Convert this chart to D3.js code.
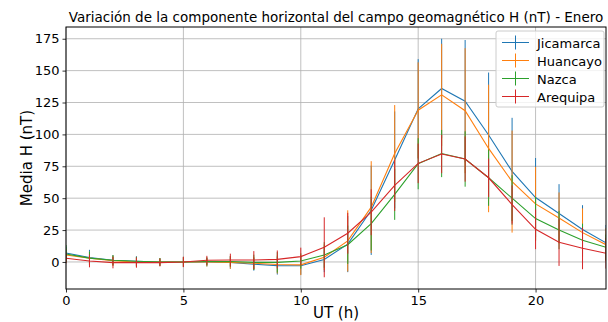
<!DOCTYPE html>
<html>
<head>
<meta charset="utf-8">
<script src="https://cdn.jsdelivr.net/npm/d3@7"></script>
<style>
  body { margin: 0; background: #fff; }
  svg { font-family: "DejaVu Sans", sans-serif; }
</style>
</head>
<body>
<div id="chart-area"></div>
<script>
// hourly means (nT) and std devs
var hours = [0,1,2,3,4,5,6,7,8,9,10,11,12,13,14,15,16,17,18,19,20,21,22,23];

var stations = ["Jicamarca", "Huancayo", "Nazca", "Arequipa"];
var colors = ["#1f77b4", "#ff7f0e", "#2ca02c", "#d62728"];

var jicamarca = [7, 3.5, 1.3, 0.5, 0, 0, 0, -0.3, -1.8, -2.9, -3, 2, 14, 40.5, 80, 120, 136, 126, 99.5, 71, 50.5, 38, 25.5, 15];
var jicamarcaStd = [5, 6, 4, 4, 3, 4, 3.5, 5, 5, 7, 7, 10, 22, 35, 38, 39, 39, 48, 49, 42, 31, 23, 19, 14];

var huancayo = [5.5, 3, 1, 0, 0, 0, 0, -0.3, -1, -2, -2.3, 3.7, 16.5, 43, 85, 119, 131, 118.6, 89, 63, 45.5, 34.5, 23, 13.5];
var huancayoStd = [5, 5, 4, 4, 3, 4, 3.5, 5, 5, 7, 8, 10, 24, 36, 38, 37.5, 40, 49, 50, 40, 29, 20, 19, 13];

var nazca = [6.3, 3, 1.3, 0.5, 0, 0, 0.3, 0.3, -0.3, -0.3, 0.8, 5.5, 13.5, 30, 53, 77, 85, 80.7, 66, 50, 34, 25, 17, 11.5];
var nazcaStd = [7, 5, 4, 3.5, 3, 3.5, 3, 4, 6, 8, 6, 10, 15, 21, 20, 20, 18.5, 21.7, 22, 18, 17, 15, 13, 10];

var arequipa = [2.9, 0.8, -0.5, -0.5, -0.5, 0, 1.3, 1.5, 1.5, 2, 4.2, 11.5, 22.5, 39, 60, 77.3, 84.6, 80.7, 66, 45, 25.6, 15.4, 10.7, 6.8];
var arequipaStd = [4, 5, 4.5, 4, 3, 4, 3.5, 5, 7, 7, 7, 23.5, 16, 18, 20, 15.5, 15, 17.7, 15, 15, 15.6, 18.5, 16.4, 12];

var xTicks = [0, 5, 10, 15, 20];
var yTicks = [0, 25, 50, 75, 100, 125, 150, 175];

var means = [jicamarca, huancayo, nazca, arequipa];
var stds = [jicamarcaStd, huancayoStd, nazcaStd, arequipaStd];

var margin = { left: 66, right: 2, top: 27, bottom: 33 };
var width = 608 - margin.left - margin.right,
    height = 322 - margin.top - margin.bottom;

var svg = d3.select("#chart-area")
  .append("svg")
    .attr("width", 608)
    .attr("height", 322);

var g = svg.append("g")
  .attr("transform", "translate(" + margin.left + "," + margin.top + ")");

var x = d3.scaleLinear().domain([0, 23]).range([0, width]);
var y = d3.scaleLinear().domain([-21.2, 184.2]).range([height, 0]);

g.append("defs").append("clipPath").attr("id", "clip")
  .append("rect").attr("width", width).attr("height", height);

// grid
g.append("g").selectAll("line").data(xTicks).enter().append("line")
  .attr("x1", d => x(d)).attr("x2", d => x(d))
  .attr("y1", 0).attr("y2", height)
  .attr("stroke", "#b0b0b0").attr("stroke-width", 0.8);
g.append("g").selectAll("line").data(yTicks).enter().append("line")
  .attr("x1", 0).attr("x2", width)
  .attr("y1", d => y(d)).attr("y2", d => y(d))
  .attr("stroke", "#b0b0b0").attr("stroke-width", 0.8);

// series
var plot = g.append("g").attr("clip-path", "url(#clip)");
var line = d3.line().x((d, i) => x(hours[i])).y(d => y(d));

means.forEach(function(m, k) {
  var s = plot.append("g");
  s.selectAll("line").data(m).enter().append("line")
    .attr("x1", (d, i) => x(hours[i])).attr("x2", (d, i) => x(hours[i]))
    .attr("y1", (d, i) => y(d - stds[k][i]))
    .attr("y2", (d, i) => y(d + stds[k][i]))
    .attr("stroke", colors[k]).attr("stroke-width", 1);
  s.append("path").datum(m)
    .attr("d", line)
    .attr("fill", "none")
    .attr("stroke", colors[k]).attr("stroke-width", 1.1);
});

// axes
var xAxis = g.append("g")
  .attr("transform", "translate(0," + height + ")")
  .call(d3.axisBottom(x).tickValues(xTicks).tickSizeOuter(0).tickSize(3.5).tickPadding(3));
var yAxis = g.append("g")
  .call(d3.axisLeft(y).tickValues(yTicks).tickSizeOuter(0).tickSize(3.5).tickPadding(3));
[xAxis, yAxis].forEach(function(a) {
  a.selectAll("text").attr("font-size", "13px").attr("fill", "#000").attr("font-family", "DejaVu Sans");
  a.selectAll(".tick line").attr("stroke", "#000").attr("stroke-width", 0.8);
  a.select(".domain").remove();
});

// frame
g.append("rect")
  .attr("width", width).attr("height", height)
  .attr("fill", "none").attr("stroke", "#000").attr("stroke-width", 1);

// labels
svg.append("text")
  .attr("x", margin.left + width / 2).attr("y", 22)
  .attr("text-anchor", "middle").attr("font-size", "13.5px")
  .text("Variación de la componente horizontal del campo geomagnético H (nT) - Enero");

svg.append("text")
  .attr("x", margin.left + width / 2).attr("y", 318)
  .attr("text-anchor", "middle").attr("font-size", "15px")
  .text("UT (h)");

svg.append("text")
  .attr("transform", "translate(32," + (margin.top + height / 2) + ") rotate(-90)")
  .attr("text-anchor", "middle").attr("font-size", "15px")
  .text("Media H (nT)");

// legend
var legend = g.append("g").attr("transform", "translate(" + (width - 110) + ",4)");
legend.append("rect")
  .attr("width", 108).attr("height", 76).attr("rx", 2)
  .attr("fill", "#fff").attr("fill-opacity", 0.8)
  .attr("stroke", "#cccccc").attr("stroke-width", 1);
stations.forEach(function(name, i) {
  var row = legend.append("g").attr("transform", "translate(0," + (11.5 + i * 18) + ")");
  row.append("line").attr("x1", 6).attr("x2", 33).attr("y1", 0).attr("y2", 0)
    .attr("stroke", colors[i]).attr("stroke-width", 1);
  row.append("line").attr("x1", 19.5).attr("x2", 19.5).attr("y1", -7).attr("y2", 7)
    .attr("stroke", colors[i]).attr("stroke-width", 1);
  row.append("text").attr("x", 41).attr("y", 5)
    .attr("font-size", "13px").text(name);
});
</script>
</body>
</html>
